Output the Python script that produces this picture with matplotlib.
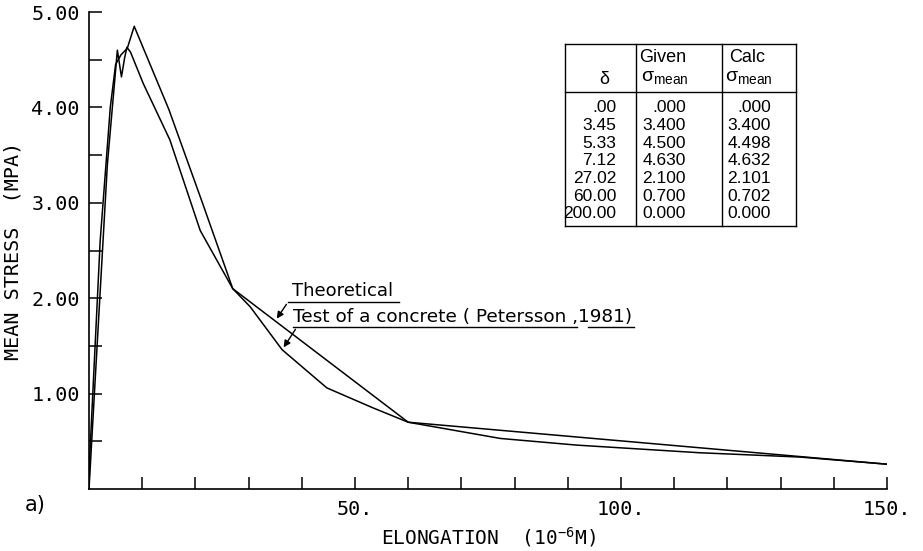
import matplotlib

matplotlib.use("Agg")
import matplotlib.pyplot as plt
import numpy as np

# --- data ---
theo_x = [0, 3.45, 5.33, 6.1, 6.7, 7.12, 7.8, 10.2, 15.2, 20.9, 27.02, 60.0, 150.0]
theo_y = [0, 3.40, 4.60, 4.32, 4.52, 4.63, 4.58, 4.25, 3.66, 2.71, 2.10, 0.70, 0.26]

test_x = [0, 0.15, 2.1, 4.0, 5.0, 6.0, 7.2, 8.5, 15.0, 21.0, 27.02, 30.3, 36.3,
          44.7, 53.4, 60.0, 77.3, 91.7, 114.8, 133.6, 150.0]
test_y = [0, 0.35, 2.6, 4.0, 4.45, 4.55, 4.62, 4.85, 3.98, 3.05, 2.10, 1.91, 1.46,
          1.06, 0.85, 0.70, 0.53, 0.46, 0.38, 0.335, 0.26]

tab_delta = [".00", "3.45", "5.33", "7.12", "27.02", "60.00", "200.00"]
tab_given = [".000", "3.400", "4.500", "4.630", "2.100", "0.700", "0.000"]
tab_calc = [".000", "3.400", "4.498", "4.632", "2.101", "0.702", "0.000"]

W, H = 923, 551
MONO = "DejaVu Sans Mono"
SANS = ["Liberation Sans", "DejaVu Sans"]


def fx(px):
    return px / W


def fy(py):
    return 1 - py / H


fig = plt.figure(figsize=(W / 100, H / 100), dpi=100)
ax = fig.add_axes([fx(89), fy(489), fx(887) - fx(89), fy(12) - fy(489)])

ax.plot(theo_x, theo_y, color="black", lw=1.1)
ax.plot(test_x, test_y, color="black", lw=1.1)

ax.set_xlim(0, 150)
ax.set_ylim(0, 5)
for s in ("top", "right"):
    ax.spines[s].set_visible(False)
for s in ("left", "bottom"):
    ax.spines[s].set_linewidth(1.2)

xt = np.arange(10, 151, 10)
yt = np.arange(0.5, 5.01, 0.5)
ax.set_xticks(xt)
ax.set_xticklabels([f"{v}." if v % 50 == 0 else "" for v in xt])
ax.set_yticks(yt)
ax.set_yticklabels([f"{v:.2f}" if abs(v - round(v)) < 1e-9 else "" for v in yt])
ax.tick_params(direction="in", length=9, width=1.1, labelsize=14.5)
ax.tick_params(axis="y", pad=6.5)
ax.tick_params(axis="x", pad=8)
for lab in ax.get_xticklabels() + ax.get_yticklabels():
    lab.set_family(MONO)

ax.set_xlabel(r"ELONGATION  (10$^{\mathregular{-6}}$M)", family=MONO, fontsize=14, labelpad=4)
ax.set_ylabel("MEAN STRESS  (MPA)", family=MONO, fontsize=14.5)
ax.yaxis.set_label_coords(-0.083, 0.5)

fig.text(fx(25), fy(505), "a)", family="DejaVu Sans", fontsize=15, va="center", ha="left")

# --- annotations ---
ax.annotate("", xy=(35.0, float(np.interp(35.0, theo_x, theo_y))),
            xytext=(fx(288), fy(302)), textcoords="figure fraction",
            arrowprops=dict(arrowstyle="-|>", color="black", lw=1.0, mutation_scale=10))
ax.annotate("", xy=(36.3, float(np.interp(36.3, test_x, test_y))),
            xytext=(fx(297), fy(327)), textcoords="figure fraction",
            arrowprops=dict(arrowstyle="-|>", color="black", lw=1.0, mutation_scale=10))
fig.text(fx(292), fy(296), "Theoretical", family="DejaVu Sans", fontsize=13, va="baseline")
fig.text(fx(293), fy(322), "Test of a concrete ( Petersson ,1981)", family="DejaVu Sans",
         fontsize=13.3, va="baseline")
for x0, x1, yy in [(288, 399, 302), (293, 577, 327), (588, 634, 327)]:
    fig.add_artist(plt.Line2D([fx(x0), fx(x1)], [fy(yy), fy(yy)], color="black", lw=1.0))

# --- table ---
tl, tr, tt, tb = 565, 796, 44, 226
c1, c2 = 636, 722
for xs, ys in [([tl, tr], [tt, tt]), ([tl, tr], [tb, tb]), ([tl, tr], [92, 92]),
               ([tl, tl], [tt, tb]), ([tr, tr], [tt, tb]),
               ([c1, c1], [tt, tb]), ([c2, c2], [tt, tb])]:
    fig.add_artist(plt.Line2D([fx(v) for v in xs], [fy(v) for v in ys], color="black", lw=1.0))

fig.text(fx(604), fy(79), "δ", family=SANS, fontsize=13, ha="center", va="center")
fig.text(fx(663), fy(58), "Given", family=SANS, fontsize=13, ha="center", va="center")
fig.text(fx(665), fy(78), r"σ$_{\mathregular{mean}}$", family=SANS, fontsize=14, ha="center", va="center")
fig.text(fx(747), fy(58), "Calc", family=SANS, fontsize=13, ha="center", va="center")
fig.text(fx(749), fy(78), r"σ$_{\mathregular{mean}}$", family=SANS, fontsize=14, ha="center", va="center")

for i, (d, g, c) in enumerate(zip(tab_delta, tab_given, tab_calc)):
    y = fy(108 + 17.6 * i)
    fig.text(fx(616), y, d, family=SANS, fontsize=12.5, ha="right", va="center")
    fig.text(fx(686), y, g, family=SANS, fontsize=12.5, ha="right", va="center")
    fig.text(fx(771), y, c, family=SANS, fontsize=12.5, ha="right", va="center")

fig.savefig("out.png", dpi=100)
